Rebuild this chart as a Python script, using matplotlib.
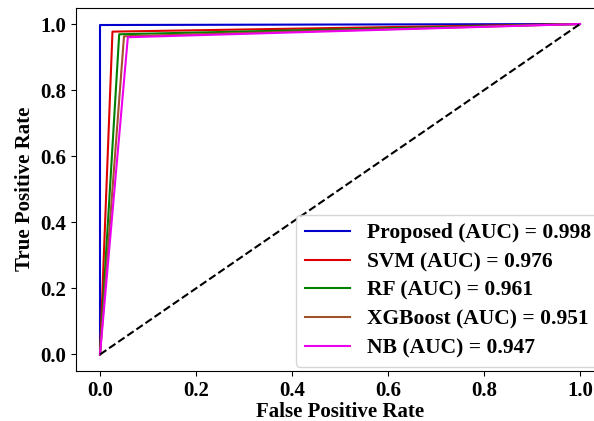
import matplotlib
matplotlib.use("Agg")
import matplotlib.pyplot as plt

# ROC points (FPR, TPR) for each model
models = ["Proposed", "SVM", "RF", "XGBoost", "NB"]
auc_values = [0.998, 0.976, 0.961, 0.951, 0.947]
fpr_points = [
    [0.0, 0.0, 1.0],
    [0.0, 0.026, 1.0],
    [0.0, 0.040, 1.0],
    [0.0, 0.050, 1.0],
    [0.0, 0.058, 1.0],
]
tpr_points = [
    [0.0, 0.997, 1.0],
    [0.0, 0.977, 1.0],
    [0.0, 0.969, 1.0],
    [0.0, 0.963, 1.0],
    [0.0, 0.960, 1.0],
]
colors = ["#0000cc", "#dd0000", "green", "sienna", "#ee00ee"]

plt.rcParams["font.family"] = "Liberation Serif"
plt.rcParams["font.weight"] = "bold"

fig = plt.figure(figsize=(5.94, 4.21), dpi=100)
# axes run slightly past the right edge of the canvas
ax = fig.add_axes([76 / 594, 1 - 371 / 421, 528 / 594, 363.5 / 421])
for name, auc, fpr, tpr, c in zip(models, auc_values, fpr_points, tpr_points, colors):
    ax.plot(fpr, tpr, color=c, lw=1.5, label=f"{name} (AUC) = {auc:.3f}")
ax.plot([0, 1], [0, 1], "k--", lw=1.5)

ax.set_xlabel("False Positive Rate", fontsize=15, fontweight="bold", labelpad=1)
ax.set_ylabel("True Positive Rate", fontsize=15, fontweight="bold")
ax.tick_params(labelsize=15)
ax.legend(loc="lower right", fontsize=15.5, handlelength=2.1,
          labelspacing=0.4, borderaxespad=0.2, borderpad=0.4)

plt.savefig("out.png", dpi=100)
